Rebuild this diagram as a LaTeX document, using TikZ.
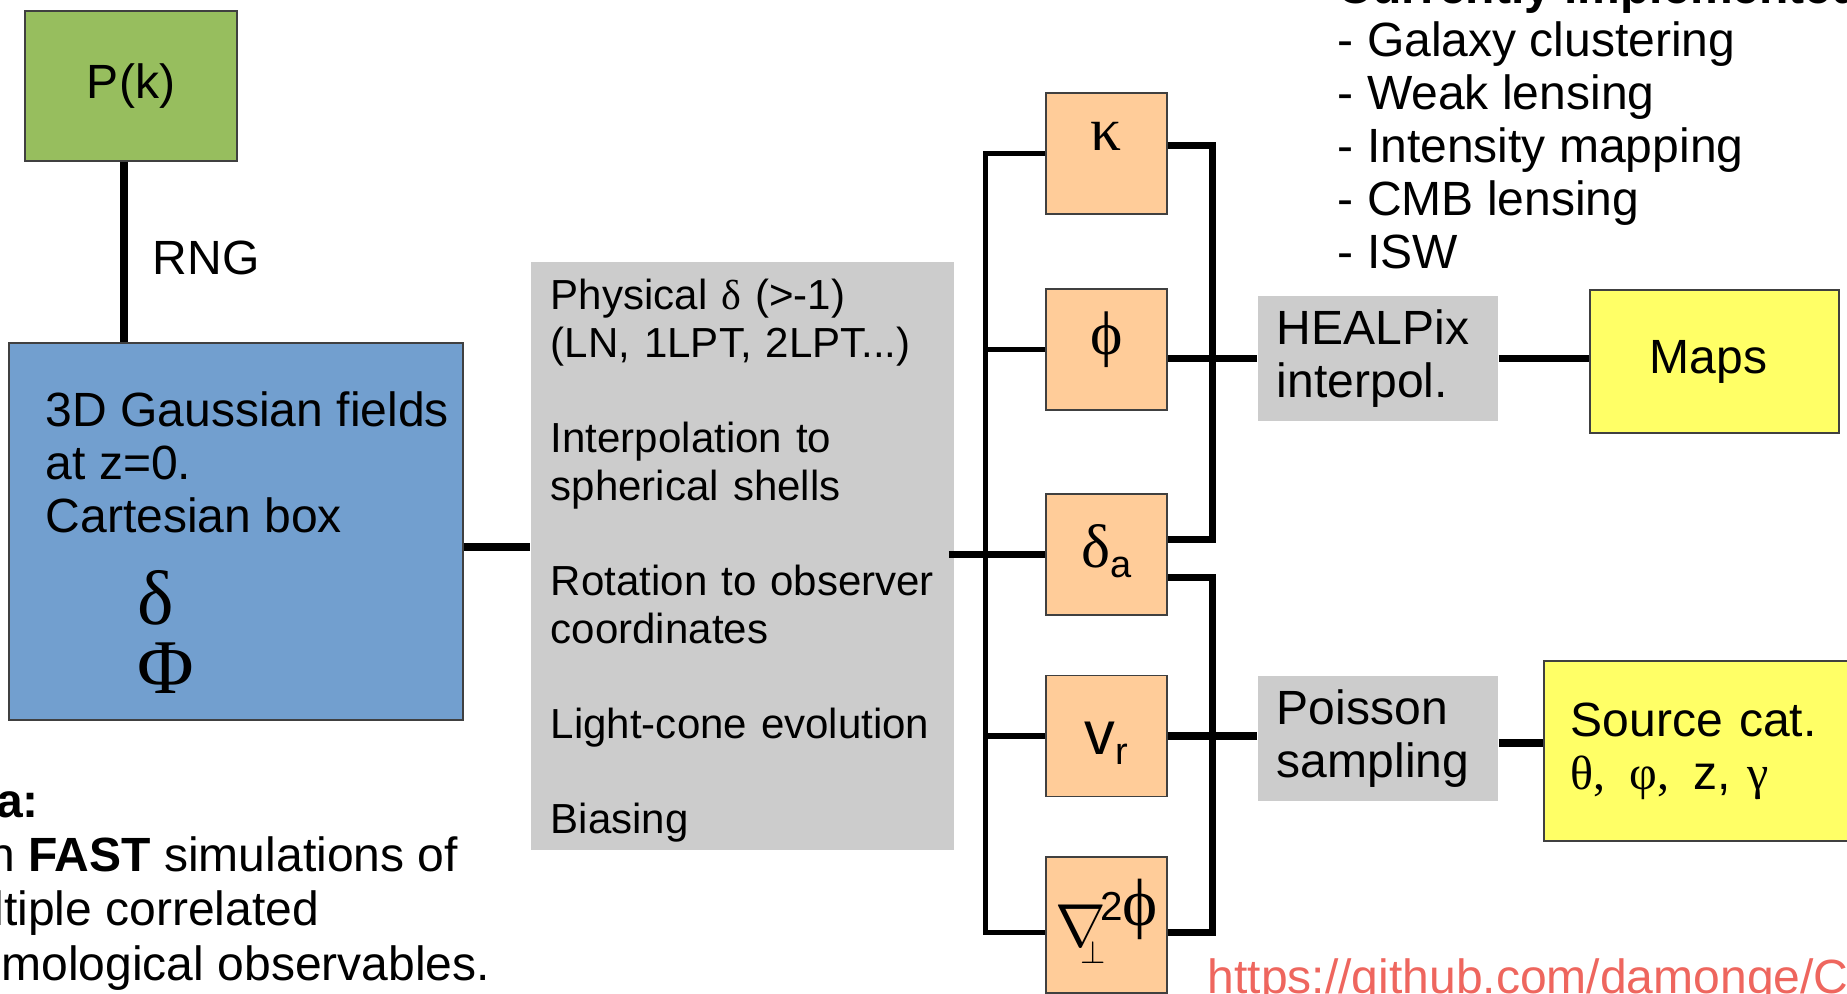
\documentclass[tikz,border=0pt]{standalone}
\usepackage{fontspec}
\setmainfont{Liberation Sans}
\newfontfamily\greekfont{Liberation Serif}
\usetikzlibrary{positioning}

\definecolor{pkgreen}{RGB}{151,190,94}
\definecolor{fieldblue}{RGB}{114,159,207}
\definecolor{stepgray}{RGB}{204,204,204}
\definecolor{obsorange}{RGB}{255,204,153}
\definecolor{outyellow}{RGB}{255,255,102}
\definecolor{urlred}{RGB}{238,102,94}

\newcommand\mainsize{\fontsize{13.66pt}{15.08pt}\selectfont}
\newcommand\graysize{\fontsize{11.95pt}{13.54pt}\selectfont}
\newcommand\symsize{\fontsize{17.5pt}{17.5pt}\selectfont}
\newcommand\fieldsize{\fontsize{22pt}{22pt}\selectfont}
\newcommand\subsize{\fontsize{10.8pt}{10.8pt}\selectfont}

\begin{document}
\begin{tikzpicture}[x=0.01cm,y=-0.01cm,
  box/.style={draw=black!75,line width=0.4pt,inner sep=0pt,font=\mainsize},
  greybox/.style={fill=stepgray,inner ysep=0pt,inner xsep=0.19cm,font=\mainsize,align=left},
  obsbox/.style={box,fill=obsorange,minimum width=1.21cm,minimum height=1.21cm,text height=0pt,text depth=0pt,font=\symsize\greekfont},
  txt/.style={anchor=base west,inner sep=0pt,font=\mainsize,align=left},
  wire/.style={line width=0.07cm},
  thinwire/.style={line width=0.05cm}]
\useasboundingbox (0,0) rectangle (1847,994);
\clip (0,0) rectangle (1847,994);

\node[box,fill=pkgreen,minimum width=2.12cm,minimum height=1.5cm] (pk) at (131,86) {P(k)};
\node[box,fill=fieldblue,minimum width=4.54cm,minimum height=3.77cm] (gauss) at (236,531.5) {};
\node[greybox,font=\graysize,text width=3.83cm,inner xsep=0.2cm,minimum height=5.88cm] (steps) at (742.5,556) {\rule{0pt}{0.40cm}Physical {\greekfont δ} (>-1)\\(LN, 1LPT, 2LPT...)\\[13.54pt]Interpolation to\\spherical shells\\[13.54pt]Rotation to observer\\coordinates\\[13.54pt]Light-cone evolution\\[13.54pt]Biasing};

\node[obsbox] (kappa) at (1106.5,153.5) {\raisebox{0.25mm}{κ}};
\node[obsbox] (phi) at (1106.5,349.5) {\raisebox{-0.45mm}{ϕ}};
\node[obsbox] (delta) at (1106.5,554.5) {\raisebox{-1.25mm}{δ\raisebox{-1mm}{\subsize\rmfamily a}}};
\node[obsbox] (vr) at (1106.5,736) {\raisebox{-1.8mm}{\rmfamily v\raisebox{-1mm}{\subsize r}}};
\node[obsbox,minimum height=1.36cm] (nabla) at (1106.5,925) {{\rmfamily\raisebox{-2.1mm}{\fontsize{18pt}{18pt}\selectfont$\nabla$}\kern-2.5mm\raisebox{-3.8mm}{\fontsize{9pt}{9pt}\selectfont$\perp$}\kern-0.6mm\raisebox{0.4mm}{\fontsize{11.5pt}{11.5pt}\selectfont 2}}{\fontsize{19pt}{19pt}\selectfont ϕ}};

\node[greybox,text width=2.02cm,minimum height=1.25cm] (healpix) at (1378,358.5) {HEALPix\\interpol.};
\node[box,fill=outyellow,minimum width=2.49cm,minimum height=1.43cm] (maps) at (1714.5,361.5) {\hspace*{-0.12cm}Maps};
\node[greybox,text width=2.02cm,minimum height=1.25cm] (poisson) at (1378,738.5) {Poisson\\sampling};
\node[box,fill=outyellow,text width=2.62cm,inner xsep=0.27cm,minimum height=1.8cm,align=left] (catalog) at (1702,751) {Source cat.\\{\greekfont θ,\enspace φ,\enspace}z, {\greekfont γ}};

\node[txt] (rng) at (152,275) {RNG};
\node[txt] (gausstext) at (45,533) {3D Gaussian fields\\at z=0.\\Cartesian box};
\node[txt,font=\fieldsize\greekfont] (fdelta) at (137,624) {δ};
\node[txt,font=\fieldsize\greekfont] (fphi) at (137,693) {Φ};
\node[txt] (observables) at (1337,269) {\textbf{Currently implemented:}\\- Galaxy clustering\\- Weak lensing\\- Intensity mapping\\- CMB lensing\\- ISW};
\node[txt,font=\fontsize{13.66pt}{15.37pt}\selectfont] (idea) at (-74,980) {\textbf{Idea:}\\Run \textbf{FAST} simulations of\\multiple correlated\\cosmological observables.};
\node[txt,text=urlred] (url) at (1207,993) {https://github.com/damonge/C};

\coordinate (rngx) at (124,0);
\coordinate (busl) at (985.5,0);
\coordinate (busr) at (1212,0);
\coordinate (nablain) at ([yshift=-0.07cm]nabla.west);
\coordinate (nablaout) at ([yshift=-0.07cm]nabla.east);
\coordinate (dtop) at ([yshift=0.145cm]delta.east);

\draw[wire] (pk.south -| rngx) -- (gauss.north -| rngx);
\draw[wire] (gauss.east |- 0,547) -- (steps.west |- 0,547);
\draw[wire] ([xshift=-0.06cm]steps.east |- delta) -- (delta.west);
\draw[thinwire] (kappa.west) -| (busl |- nablain) -- (nablain);
\draw[thinwire] (phi.west) -- (phi.west -| busl);
\draw[thinwire] (vr.west) -- (vr.west -| busl);
\draw[wire] ([yshift=0.075cm]kappa.east) -| (busr |- dtop) -- (dtop);
\draw[wire] ([yshift=-0.225cm]delta.east) -| (busr |- nablaout) -- (nablaout);
\draw[wire] (phi.east |- healpix) -- (healpix.west);
\draw[wire] (vr.east) -- (vr.east -| poisson.west);
\draw[wire] (healpix.east) -- (healpix.east -| maps.west);
\draw[wire] (poisson.east |- 0,743) -- (catalog.west |- 0,743);
\end{tikzpicture}
\end{document}
